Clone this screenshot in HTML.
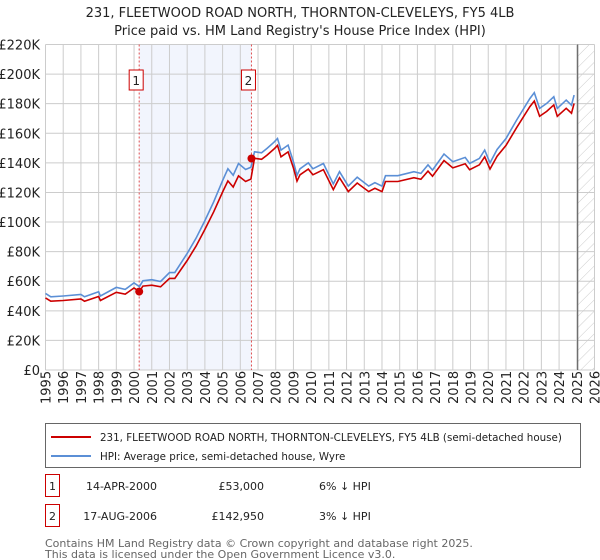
<!DOCTYPE html>
<html><head><meta charset="utf-8"><style>
body{margin:0;background:#fff;font-family:"DejaVu Sans","Liberation Sans",sans-serif;}
#wrap{position:relative;width:600px;height:560px;overflow:hidden}
</style></head><body><div id="wrap">
<svg id="svg" width="600" height="560" xmlns="http://www.w3.org/2000/svg" font-family="DejaVu Sans, Liberation Sans, sans-serif"></svg>
</div>
<script>
const hpiYears=[1995.0,1995.3,1996.0,1997.0,1997.2,1998.0,1998.1,1999.0,1999.5,2000.0,2000.3,2000.5,2001.0,2001.5,2002.0,2002.3,2003.0,2003.5,2004.0,2004.5,2005.0,2005.3,2005.6,2005.9,2006.3,2006.6,2006.8,2007.2,2007.5,2007.9,2008.1,2008.3,2008.7,2009.0,2009.2,2009.37,2009.84,2010.1,2010.69,2011.25,2011.6,2012.1,2012.6,2013.25,2013.6,2014.0,2014.2,2014.9,2015.8,2016.2,2016.6,2016.85,2017.5,2018.0,2018.7,2018.95,2019.5,2019.8,2020.1,2020.5,2021.0,2021.6,2022.35,2022.6,2022.9,2023.3,2023.7,2023.9,2024.4,2024.7,2024.85];
const hpiValues=[51.8,49.5,50,51,49.5,52.9,50,55.8,54.5,58.9,56.3,60.3,61,59.8,65.8,65.8,78.8,89,101,113.7,128,136,131.6,139.6,135.5,137,147.5,146.8,149.7,154,156.5,148.6,152,140.8,131.6,136,140,136,139.6,125.7,134,124.3,130.3,124.3,126.6,124.3,131.3,131.3,134,132.9,138.6,135.1,146,140.8,143.7,139.6,143,148.6,140,149,156.5,168.9,183.5,187.4,176.8,180.2,184.7,176.8,182.4,179,185.8];
const priceValues=[48.7,46.5,47,48,46.5,49.7,47,52.5,51.2,55.4,53,56.7,57.3,56.2,61.9,61.9,74,83.7,95,106.9,120.3,127.8,123.7,131.2,127.4,129,143.1,142.4,145.2,149.4,151.8,144.1,147.4,136.6,127.7,131.9,135.8,131.9,135.4,121.9,130,120.6,126.4,120.6,122.8,120.6,127.4,127.4,130,128.9,134.4,131,141.6,136.6,139.4,135.4,138.7,144.1,135.8,144.5,151.8,163.8,178,181.8,171.5,174.8,179.2,171.5,176.9,173.6,180.2];
const saleYears=[2000.29,2006.63];
const saleValues=[53,142.95];
const saleLabels=["1","2"];
const yTicks=[0,20,40,60,80,100,120,140,160,180,200,220];
const xTicks=[];for(let y=1995;y<=2026;y++)xTicks.push(y);

const NS="http://www.w3.org/2000/svg";
const svg=document.getElementById('svg');
const L=45.5,R=594.5,T=44.5,B=370;
const X=y=>L+(y-1995)/(2026-1995)*(R-L);
const Y=v=>B-v/220*(B-T);
function el(t,a,p){const e=document.createElementNS(NS,t);for(const k in a)e.setAttribute(k,a[k]);(p||svg).appendChild(e);return e;}
function txt(s,a){const e=el('text',a);e.textContent=s;return e;}

let t;
t=txt("231, FLEETWOOD ROAD NORTH, THORNTON-CLEVELEYS, FY5 4LB",{x:300,y:17,'text-anchor':'middle','font-size':13,fill:'#222'});

t=txt("Price paid vs. HM Land Registry's House Price Index (HPI)",{x:300,y:35,'text-anchor':'middle','font-size':13,fill:'#222'});


let r=el('rect',{x:X(saleYears[0]),y:T,width:X(saleYears[1])-X(saleYears[0]),height:B-T,fill:'#f2f5fd'});

let defs=el('defs',{});
let pat=el('pattern',{id:'h',patternUnits:'userSpaceOnUse',width:8,height:8,patternTransform:'rotate(45)'},defs);
el('line',{x1:0,y1:0,x2:0,y2:8,stroke:'#ccc','stroke-width':1},pat);
r=el('rect',{x:X(2025.0),y:T,width:R-X(2025.0),height:B-T,fill:'url(#h)'});


xTicks.forEach(y=>{let g=el('line',{x1:X(y),x2:X(y),y1:T,y2:B,stroke:'#ccc','stroke-width':1});

let l=txt(String(y),{transform:`translate(${X(y)+5},${B+34}) rotate(-90)`,'font-size':13,fill:'#222'});
});
yTicks.forEach(v=>{let g=el('line',{x1:L,x2:R,y1:Y(v),y2:Y(v),stroke:'#ccc','stroke-width':1});

let l=txt(v===0?'£0':'£'+v+'K',{x:40,y:Y(v)+5,'text-anchor':'end','font-size':13,fill:'#222'});
});
let vl=el('line',{x1:X(2025.05),x2:X(2025.05),y1:T,y2:B,stroke:'#666','stroke-width':1.2});


saleYears.forEach((y,i)=>{
 let d=el('line',{x1:X(y),x2:X(y),y1:T,y2:B,stroke:'#e05050','stroke-width':1,'stroke-dasharray':'2,2'});
 
 let b=el('rect',{x:X(y)-10,y:70,width:14,height:20,fill:'#fff',stroke:'#c00','stroke-width':1});
 
 let l=txt(saleLabels[i],{x:X(y)-3,y:85,'text-anchor':'middle','font-size':12,fill:'#222'});
 
});

function path(xs,vs){return xs.map((x,i)=>(i?'L':'M')+X(x).toFixed(1)+','+Y(vs[i]).toFixed(1)).join('');}
let p=el('path',{d:path(hpiYears,hpiValues),fill:'none',stroke:'#5b8fd6','stroke-width':1.6});

p=el('path',{d:path(hpiYears,priceValues),fill:'none',stroke:'#cc0000','stroke-width':1.6});

saleYears.forEach((y,i)=>{let c=el('circle',{cx:X(y),cy:Y(saleValues[i]),r:4,fill:'#cc0000'});
});

let lg=el('rect',{x:45.5,y:423.5,width:535,height:44,fill:'#fff',stroke:'#666','stroke-width':1});

el('line',{x1:51,x2:91,y1:437,y2:437,stroke:'#cc0000','stroke-width':2});
t=txt("231, FLEETWOOD ROAD NORTH, THORNTON-CLEVELEYS, FY5 4LB (semi-detached house)",{x:100,y:441,'font-size':10.3,fill:'#222'});

el('line',{x1:51,x2:91,y1:456,y2:456,stroke:'#5b8fd6','stroke-width':2});
t=txt("HPI: Average price, semi-detached house, Wyre",{x:100,y:460,'font-size':10.3,fill:'#222'});


const rows=[["1","14-APR-2000","£53,000","6% ↓ HPI",486],["2","17-AUG-2006","£142,950","3% ↓ HPI",516]];
rows.forEach(rw=>{
 let b=el('rect',{x:45.5,y:rw[4]-11.5,width:14,height:22,fill:'#fff',stroke:'#c00','stroke-width':1});
 
 let a=txt(rw[0],{x:52.5,y:rw[4]+4,'text-anchor':'middle','font-size':11,fill:'#222'});
 a=txt(rw[1],{x:157,y:rw[4]+4,'text-anchor':'end','font-size':11,fill:'#222'});
 a=txt(rw[2],{x:264,y:rw[4]+4,'text-anchor':'end','font-size':11,fill:'#222'});
 a=txt(rw[3],{x:319,y:rw[4]+4,'font-size':11,fill:'#222'});
});
t=txt("Contains HM Land Registry data © Crown copyright and database right 2025.",{x:45,y:547,'font-size':11,fill:'#666'});

t=txt("This data is licensed under the Open Government Licence v3.0.",{x:45,y:558,'font-size':11,fill:'#666'});

</script></body></html>
